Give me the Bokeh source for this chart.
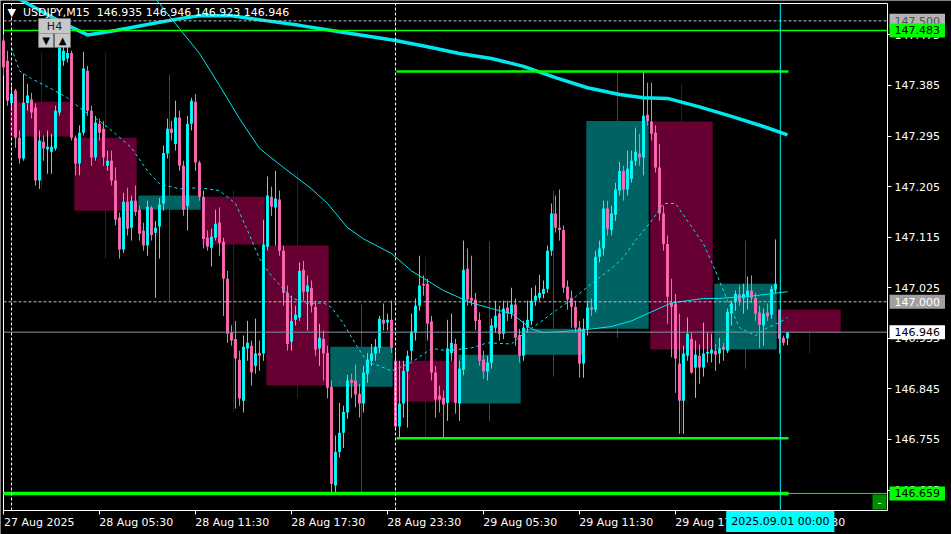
from bokeh.plotting import figure
from bokeh.models import (ColumnDataSource, Range1d, FixedTicker, Label, BoxAnnotation,
                          PrintfTickFormatter)
from bokeh.embed import file_html
from bokeh.resources import INLINE

# ---------------- data (USDJPY M15, bar 0 = 28 Aug 2025 00:00) ----------------
bar_idx = list(range(-2, 195))

bar_open = [147.465, 147.429, 147.354, 147.376, 147.292, 147.255, 147.354, 147.360, 147.346, 147.216,
            147.285, 147.271, 147.267, 147.273, 147.337, 147.429, 147.433, 147.443, 147.292, 147.246,
            147.301, 147.411, 147.340, 147.257, 147.317, 147.308, 147.242, 147.251, 147.216, 147.150,
            147.093, 147.178, 147.132, 147.180, 147.164, 147.127, 147.100, 147.168, 147.123, 147.134,
            147.175, 147.264, 147.308, 147.281, 147.328, 147.242, 147.171, 147.317, 147.356, 147.248,
            147.187, 147.114, 147.096, 147.114, 147.141, 147.107, 147.041, 146.945, 146.934, 146.897,
            146.824, 146.917, 146.922, 146.886, 146.909, 146.908, 147.098, 147.187, 147.168, 147.182,
            147.091, 147.016, 146.929, 146.968, 146.972, 147.057, 147.018, 147.025, 146.991, 146.917,
            146.934, 146.909, 146.849, 146.673, 146.733, 146.767, 146.803, 146.861, 146.860, 146.836,
            146.819, 146.872, 146.895, 146.908, 146.918, 146.968, 146.963, 146.968, 146.895, 146.778,
            146.819, 146.876, 146.913, 146.945, 146.993, 147.032, 147.032, 146.965, 146.874, 146.833,
            146.829, 146.820, 146.909, 146.925, 146.819, 146.879, 147.059, 147.007, 147.004, 146.968,
            146.897, 146.876, 146.892, 146.954, 146.979, 146.943, 146.990, 146.979, 146.995, 146.941,
            146.904, 146.954, 146.966, 147.002, 147.007, 147.014, 147.023, 147.091, 147.157, 147.132,
            147.128, 147.027, 147.007, 146.991, 146.954, 146.890, 146.952, 146.990, 146.986, 147.080,
            147.095, 147.166, 147.128, 147.155, 147.198, 147.233, 147.200, 147.219, 147.251, 147.264,
            147.257, 147.333, 147.321, 147.301, 147.239, 147.157, 147.103, 146.998, 146.997, 146.890,
            146.824, 146.904, 146.934, 146.883, 146.904, 146.883, 146.908, 146.908, 146.913, 146.908,
            146.920, 146.913, 146.979, 147.000, 147.013, 147.006, 147.009, 147.020, 147.007, 146.981,
            146.958, 146.981, 146.977, 147.022, 146.986, 146.936, 146.935]

bar_high = [147.477, 147.447, 147.385, 147.379, 147.305, 147.406, 147.388, 147.372, 147.353, 147.305,
            147.296, 147.305, 147.299, 147.349, 147.465, 147.456, 147.456, 147.447, 147.296, 147.314,
            147.445, 147.420, 147.349, 147.331, 147.326, 147.322, 147.269, 147.269, 147.239, 147.159,
            147.194, 147.203, 147.189, 147.207, 147.171, 147.141, 147.180, 147.171, 147.144, 147.185,
            147.278, 147.326, 147.322, 147.358, 147.340, 147.251, 147.331, 147.363, 147.370, 147.251,
            147.198, 147.127, 147.130, 147.164, 147.168, 147.114, 147.055, 146.958, 146.966, 146.913,
            146.940, 146.966, 146.931, 146.970, 146.931, 147.146, 147.223, 147.205, 147.233, 147.198,
            147.100, 147.029, 147.011, 146.993, 147.070, 147.073, 147.047, 147.038, 147.002, 146.961,
            146.949, 146.922, 146.860, 146.762, 146.820, 146.815, 146.870, 146.872, 146.888, 146.854,
            146.886, 146.909, 146.925, 146.934, 146.975, 146.997, 146.979, 147.002, 146.913, 146.895,
            146.895, 146.913, 146.979, 147.006, 147.082, 147.047, 147.041, 146.975, 146.886, 146.851,
            146.842, 146.968, 146.979, 146.934, 146.895, 147.109, 147.095, 147.082, 147.016, 146.981,
            146.913, 146.904, 146.970, 147.002, 146.993, 147.002, 147.002, 147.025, 147.006, 146.952,
            146.966, 147.002, 147.025, 147.029, 147.048, 147.038, 147.100, 147.175, 147.189, 147.200,
            147.136, 147.038, 147.020, 147.002, 146.966, 146.970, 147.002, 147.006, 147.091, 147.109,
            147.180, 147.180, 147.171, 147.212, 147.249, 147.242, 147.269, 147.269, 147.310, 147.299,
            147.410, 147.390, 147.390, 147.314, 147.281, 147.171, 147.118, 147.041, 147.014, 146.979,
            146.922, 146.972, 146.945, 146.931, 146.924, 146.963, 146.945, 146.943, 146.925, 146.936,
            146.927, 146.988, 147.002, 147.020, 147.029, 147.032, 147.045, 147.047, 147.016, 146.993,
            146.988, 146.997, 147.029, 147.111, 146.986, 146.940, 146.946]

bar_low = [147.403, 147.349, 147.340, 147.274, 147.246, 147.251, 147.340, 147.326, 147.207, 147.201,
           147.251, 147.228, 147.228, 147.269, 147.331, 147.420, 147.426, 147.287, 147.225, 147.225,
           147.296, 147.331, 147.242, 147.251, 147.287, 147.242, 147.233, 147.207, 147.136, 147.077,
           147.087, 147.118, 147.109, 147.153, 147.109, 147.091, 147.082, 147.109, 147.007, 147.077,
           147.162, 147.255, 147.287, 147.269, 147.233, 147.153, 147.127, 147.305, 147.233, 147.180,
           147.095, 147.091, 147.063, 147.109, 147.082, 146.975, 146.927, 146.922, 146.810, 146.815,
           146.803, 146.895, 146.851, 146.872, 146.877, 146.895, 147.091, 147.153, 147.100, 147.082,
           146.993, 146.913, 146.913, 146.958, 146.966, 147.002, 146.949, 146.981, 146.904, 146.886,
           146.860, 146.828, 146.660, 146.660, 146.723, 146.740, 146.792, 146.829, 146.812, 146.794,
           146.803, 146.856, 146.886, 146.895, 146.909, 146.949, 146.949, 146.909, 146.771, 146.758,
           146.794, 146.776, 146.895, 146.931, 146.984, 147.011, 146.931, 146.860, 146.794, 146.803,
           146.758, 146.788, 146.895, 146.801, 146.788, 146.869, 146.993, 146.993, 146.949, 146.886,
           146.863, 146.860, 146.881, 146.945, 146.931, 146.934, 146.966, 146.970, 146.922, 146.892,
           146.895, 146.945, 146.958, 146.993, 147.002, 147.006, 147.016, 147.082, 147.123, 147.109,
           147.016, 146.986, 146.954, 146.945, 146.865, 146.865, 146.940, 146.975, 146.981, 147.070,
           147.082, 147.118, 147.118, 147.144, 147.189, 147.180, 147.189, 147.212, 147.242, 147.242,
           147.225, 147.314, 147.287, 147.230, 147.144, 147.091, 146.961, 146.901, 146.838, 146.765,
           146.765, 146.895, 146.872, 146.829, 146.854, 146.867, 146.892, 146.892, 146.877, 146.890,
           146.895, 146.909, 146.958, 146.984, 146.993, 146.979, 146.986, 146.998, 146.966, 146.918,
           146.922, 146.966, 146.970, 147.016, 146.908, 146.922, 146.923]

bar_close = [147.417, 147.358, 147.370, 147.292, 147.255, 147.354, 147.367, 147.337, 147.216, 147.287,
             147.273, 147.276, 147.276, 147.340, 147.452, 147.447, 147.443, 147.292, 147.246, 147.301,
             147.415, 147.340, 147.257, 147.319, 147.301, 147.257, 147.251, 147.216, 147.146, 147.093,
             147.178, 147.130, 147.180, 147.160, 147.121, 147.100, 147.169, 147.119, 147.132, 147.173,
             147.265, 147.308, 147.301, 147.328, 147.242, 147.164, 147.317, 147.358, 147.248, 147.187,
             147.112, 147.098, 147.116, 147.139, 147.105, 147.041, 146.943, 146.931, 146.899, 146.828,
             146.920, 146.927, 146.874, 146.908, 146.904, 147.102, 147.189, 147.169, 147.184, 147.091,
             147.016, 146.925, 146.966, 146.977, 147.055, 147.018, 147.029, 146.993, 146.915, 146.936,
             146.908, 146.847, 146.676, 146.733, 146.767, 146.804, 146.860, 146.856, 146.835, 146.819,
             146.874, 146.897, 146.908, 146.920, 146.970, 146.961, 146.968, 146.918, 146.778, 146.819,
             146.877, 146.904, 146.947, 146.993, 147.029, 147.029, 146.961, 146.874, 146.826, 146.826,
             146.817, 146.917, 146.927, 146.820, 146.881, 147.057, 147.004, 147.002, 146.966, 146.895,
             146.876, 146.892, 146.958, 146.975, 146.943, 146.988, 146.979, 146.995, 146.936, 146.904,
             146.954, 146.968, 147.002, 147.011, 147.016, 147.023, 147.091, 147.157, 147.132, 147.128,
             147.025, 147.004, 146.991, 146.954, 146.890, 146.952, 146.990, 146.986, 147.080, 147.095,
             147.166, 147.130, 147.157, 147.200, 147.233, 147.200, 147.237, 147.251, 147.267, 147.257,
             147.331, 147.322, 147.299, 147.239, 147.157, 147.103, 147.009, 146.991, 146.899, 146.824,
             146.908, 146.943, 146.874, 146.906, 146.883, 146.908, 146.911, 146.915, 146.906, 146.917,
             146.915, 146.982, 146.997, 147.014, 147.002, 147.014, 147.020, 147.007, 146.979, 146.959,
             146.979, 146.974, 147.023, 147.032, 146.934, 146.927, 146.946]

# H4 candles drawn as boxes (start bar of each 4-hour block)
h4_start = [0, 16, 32, 48, 64, 80, 96, 112, 128, 144, 160, 176, 192]
h4_open = [147.356, 147.292, 147.164, 147.187, 147.100, 146.849, 146.895, 146.819, 146.906, 146.952, 147.321, 146.915, 146.986]
h4_close = [147.294, 147.162, 147.189, 147.102, 146.851, 146.920, 146.822, 146.906, 146.952, 147.322, 146.915, 147.032, 146.946]
h4_high = [147.443, 147.443, 147.404, 147.198, 147.232, 146.995, 147.080, 147.107, 147.198, 147.408, 147.388, 147.109, 146.986]
h4_low = [147.201, 147.077, 147.000, 146.804, 146.829, 146.660, 146.758, 146.788, 146.867, 146.936, 146.765, 146.881, 146.908]

# moving averages (read at sample bars)
slow_ma_bar = [-2, 4, 9, 14, 19, 26, 35, 42, 47, 55, 64, 72, 80, 88, 96, 104, 112, 120, 128, 136,
               144, 152, 158, 164, 172, 180, 188, 194]
slow_ma = [147.554, 147.531, 147.511, 147.492, 147.475, 147.483, 147.495, 147.504, 147.509, 147.509,
           147.500, 147.492, 147.483, 147.474, 147.465, 147.454, 147.442, 147.433, 147.419, 147.399,
           147.381, 147.369, 147.363, 147.362, 147.347, 147.330, 147.312, 147.297]
mid_ma_bar = [35, 37, 42, 47, 52, 57, 62, 68, 75, 79, 84, 88, 95, 100, 108, 115, 120, 125, 130, 133,
              142, 150, 155, 159, 165, 173, 177, 186, 194]
mid_ma = [147.545, 147.531, 147.486, 147.442, 147.385, 147.326, 147.273, 147.239, 147.201, 147.175,
          147.132, 147.112, 147.086, 147.055, 147.020, 146.998, 146.988, 146.979, 146.952, 146.945,
          146.949, 146.956, 146.966, 146.979, 146.998, 147.006, 147.006, 147.011, 147.018]
fast_ma_bar = [0, 2, 5, 10, 14, 18, 22, 26, 30, 34, 37, 42, 47, 52, 56, 59, 62, 64, 66, 70,
               74, 78, 80, 83, 86, 89, 92, 95, 100, 105, 109, 115, 119, 125, 128, 132, 136, 141, 146, 150,
               153, 156, 160, 163, 166, 169, 173, 176, 179, 182, 186, 189, 192, 194]
fast_ma = [147.452, 147.411, 147.397, 147.379, 147.363, 147.340, 147.322, 147.299, 147.274, 147.233,
           147.210, 147.201, 147.203, 147.198, 147.175, 147.127, 147.077, 147.055, 147.038, 147.007,
           146.997, 146.998, 146.990, 146.961, 146.925, 146.892, 146.886, 146.877, 146.892, 146.917,
           146.913, 146.918, 146.927, 146.925, 146.943, 146.963, 146.984, 147.009, 147.038, 147.059,
           147.079, 147.109, 147.144, 147.175, 147.175, 147.144, 147.103, 147.055, 147.002, 146.954,
           146.940, 146.954, 146.963, 146.972]

# levels
level_top = 147.483
level_upper = 147.410
level_lower = 146.757
level_bottom = 146.659
round_levels = [147.500, 147.000]
bid_price = 146.946

price_ticks = [147.475, 147.385, 147.295, 147.205, 147.115, 147.025, 146.935, 146.845, 146.755, 146.665]
time_tick_bars = [-2, 22, 46, 70, 94, 118, 142, 166, 190]
time_tick_labels = ["27 Aug 2025", "28 Aug 05:30", "28 Aug 11:30", "28 Aug 17:30", "28 Aug 23:30",
                    "29 Aug 05:30", "29 Aug 11:30", "29 Aug 17:30", "29 Aug 23:30"]
separator_bars = [0, 96]
week_start_bar = 192
week_start_label = "2025.09.01 00:00"
header_text = "\u25bc\u00a0\u00a0USDJPY,M15\u00a0\u00a0146.935 146.946 146.923 146.946"

# ---------------- figure ----------------
FONT = "DejaVu Sans"
UP, DOWN = "#00ffff", "#ff69b4"
BOX_UP, BOX_DOWN = "#006262", "#660033"
W, H = 951, 534
# chart area: bars -2 .. 219 (4 px per bar), prices 146.6286 .. 147.5309
X0, X1 = -2, 219
Y0, Y1 = 146.6286, 147.5309
PX_BAR = 4.0
PX_PRICE = 507 / (Y1 - Y0)

p = figure(width=W, height=H, title=None, output_backend="svg", toolbar_location=None,
           x_range=Range1d(X0 - 3 / PX_BAR, X0 + (W - 3) / PX_BAR),
           y_range=Range1d(Y1 - (H - 3) / PX_PRICE, Y1 + 3 / PX_PRICE),
           y_axis_location="right", background_fill_color="black", border_fill_color="black",
           min_border_left=0, min_border_top=0, min_border_right=0, min_border_bottom=0)
p.grid.visible = False
p.outline_line_color = None


def sx(bar):      # canvas x of a bar position
    return (bar - p.x_range.start) / (p.x_range.end - p.x_range.start) * W


def sy(price):    # canvas y (from bottom) of a price
    return (price - p.y_range.start) / (p.y_range.end - p.y_range.start) * H


def left_start(t, first):
    # Bokeh centres tick labels; pad with figure spaces so the text starts at its tick
    if first:
        return "\u00a0" + t
    return "\u2007" * 10 + ("\u00a0" if ":" in t else "") + t


yax = p.yaxis[0]
yax.fixed_location = X1
yax.bounds = (Y0, Y1)
yax.ticker = FixedTicker(ticks=price_ticks)
yax.formatter = PrintfTickFormatter(format="%.3f")
xax = p.xaxis[0]
xax.fixed_location = Y0
xax.bounds = (X0, X1)
xax.ticker = FixedTicker(ticks=time_tick_bars)
xax.major_label_overrides = {b: left_start(t, i == 0)
                             for i, (b, t) in enumerate(zip(time_tick_bars, time_tick_labels))}
for ax in (xax, yax):
    ax.axis_line_color = "white"
    ax.major_tick_line_color = "white"
    ax.minor_tick_line_color = None
    ax.major_tick_out = 4
    ax.major_tick_in = 0
    ax.major_label_text_color = "white"
    ax.major_label_text_font = FONT
    ax.major_label_text_font_size = "11px"
    ax.major_label_standoff = 3
xax.major_label_standoff = 1

# chart border (top and left)
p.segment(x0=[X0, X0], x1=[X1, X0], y0=[Y1, Y0], y1=[Y1, Y1], line_color="white", line_width=1)

# H4 boxes
h4_up = [c >= o for o, c in zip(h4_open, h4_close)]
h4 = ColumnDataSource(dict(
    left=[s - 0.3 for s in h4_start], right=[s + 15.3 for s in h4_start],
    mid=[s + 7.5 for s in h4_start],
    top=[max(o, c) for o, c in zip(h4_open, h4_close)],
    bottom=[min(o, c) for o, c in zip(h4_open, h4_close)],
    high=h4_high, low=h4_low,
    color=[BOX_UP if u else BOX_DOWN for u in h4_up]))
p.segment(x0="mid", x1="mid", y0="low", y1="high", line_color="color", line_width=1, source=h4)
p.quad(left="left", right="right", top="top", bottom="bottom", fill_color="color",
       line_color=None, source=h4)

# M15 candles
up = [c >= o for o, c in zip(bar_open, bar_close)]
cs = ColumnDataSource(dict(
    k=bar_idx, high=bar_high, low=bar_low,
    top=[max(o, c) for o, c in zip(bar_open, bar_close)],
    bottom=[min(o, c) for o, c in zip(bar_open, bar_close)],
    color=[UP if u else DOWN for u in up]))
p.segment(x0="k", x1="k", y0="low", y1="high", line_color="color", line_width=1, source=cs)
p.vbar(x="k", width=0.72, top="top", bottom="bottom", fill_color="color", line_color=None, source=cs)

# moving averages
p.line(slow_ma_bar, slow_ma, line_color="#00e8ee", line_width=3.5)
p.line(mid_ma_bar, mid_ma, line_color="#00e8ee", line_width=1)
p.line(fast_ma_bar, fast_ma, line_color="#00e8ee", line_width=1, line_dash="3 3")

# horizontal levels (end at the price scale)
p.segment(x0=[X0, X0], x1=[X1, X1], y0=round_levels, y1=round_levels,
          line_color="#c0c0c0", line_width=1, line_dash="3 2")
p.segment(x0=[X0, X0], x1=[X1, X1], y0=[level_top, level_bottom], y1=[level_top, level_bottom],
          line_color="#00ff00", line_width=[1.5, 1])
p.segment(x0=[96.25, 96.25, X0], x1=[194.25, 194.25, 194.25],
          y0=[level_upper, level_lower, level_bottom], y1=[level_upper, level_lower, level_bottom],
          line_color="#00ff00", line_width=[2.5, 2.5, 3.5])
p.segment(x0=[X0], x1=[X1], y0=[bid_price], y1=[bid_price], line_color="#8494a4", line_width=1)

# vertical separators
p.segment(x0=separator_bars, x1=separator_bars, y0=[Y0] * len(separator_bars), y1=[Y1] * len(separator_bars),
          line_color="white", line_width=1, line_dash="3 2")
p.segment(x0=[week_start_bar + 0.2], x1=[week_start_bar + 0.2], y0=[Y0], y1=[Y1],
          line_color="#00ffff", line_width=1)


def tag(price, text, bg, fg):
    p.add_layout(Label(x=sx(X1) + 2, y=sy(price), x_units="screen", y_units="screen", text=text,
                       text_align="left", text_baseline="middle", text_font=FONT,
                       text_font_size="11px", text_color=fg, background_fill_color=bg,
                       padding=(5, 3)))


tag(round_levels[0], "147.500", "#b4b4b4", "#505050")
tag(level_top, "147.483", "#00ff00", "black")
tag(round_levels[1], "147.000", "#a0a0a0", "white")
tag(bid_price, "146.946", "white", "black")
tag(level_bottom, "146.659", "#00ff00", "black")

# time tag under the week-start line
p.add_layout(Label(x=sx(week_start_bar + 0.2), y=sy(Y0) - 11, x_units="screen", y_units="screen",
                   text=week_start_label, text_align="center", text_baseline="middle",
                   text_font=FONT, text_font_size="11px", text_color="black",
                   background_fill_color="#00ffff", padding=(5, 4)))

# header and small controls (canvas positions, y measured from bottom)
p.add_layout(Label(x=7, y=H - 12, x_units="screen", y_units="screen", text=header_text,
                   text_align="left", text_baseline="middle", text_font=FONT,
                   text_font_size="11px", text_color="white"))
for l, r, t, b in [(38, 70, H - 18, H - 33), (38, 53, H - 33, H - 47), (54, 70, H - 33, H - 47)]:
    p.add_layout(BoxAnnotation(left=l, right=r, top=t, bottom=b, left_units="screen",
                               right_units="screen", top_units="screen", bottom_units="screen",
                               fill_color="#c8c8c8", fill_alpha=1, line_color="#909090", line_width=1))
p.add_layout(Label(x=54, y=H - 25.5, x_units="screen", y_units="screen", text="H4",
                   text_align="center", text_baseline="middle", text_font=FONT,
                   text_font_size="11px", text_color="#202020"))
p.add_layout(Label(x=45.5, y=H - 40, x_units="screen", y_units="screen", text="\u25bc",
                   text_align="center", text_baseline="middle", text_font=FONT,
                   text_font_size="10px", text_color="black"))
p.add_layout(Label(x=62, y=H - 40, x_units="screen", y_units="screen", text="\u25b2",
                   text_align="center", text_baseline="middle", text_font=FONT,
                   text_font_size="10px", text_color="black"))
p.add_layout(BoxAnnotation(left=872, right=886, top=H - 494, bottom=H - 509, left_units="screen",
                           right_units="screen", top_units="screen", bottom_units="screen",
                           fill_color="#008c00", fill_alpha=1, line_color="#005000", line_width=1))
p.add_layout(Label(x=879, y=H - 501.5, x_units="screen", y_units="screen", text="-",
                   text_align="center", text_baseline="middle", text_font=FONT,
                   text_font_size="11px", text_color="white"))

html = file_html(p, INLINE, title="USDJPY,M15")
html = html.replace("<body>", '<body style="margin:0;padding:0;background:#000000;overflow:hidden;">', 1)
open("out.html", "w").write(html)
